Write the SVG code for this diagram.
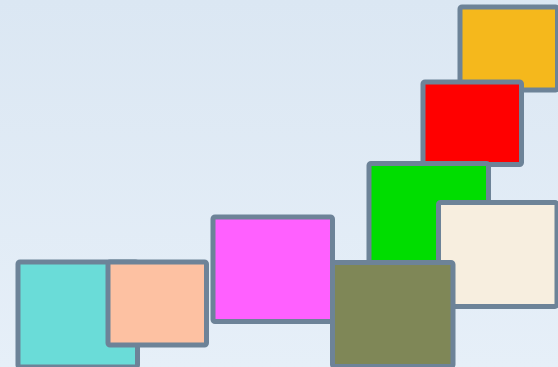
<svg xmlns="http://www.w3.org/2000/svg" width="558" height="367" viewBox="0 0 558 367">
<defs>
<linearGradient id="bg" x1="0" y1="0" x2="0" y2="1">
<stop offset="0" stop-color="#dbe7f3"/>
<stop offset="1" stop-color="#e6eff8"/>
</linearGradient>
</defs>
<style>
.box{stroke:#6d8398;stroke-width:5;stroke-linejoin:round}
</style>
<rect x="0" y="0" width="558" height="367" fill="url(#bg)"/>
<g id="cyan"><rect class="box" x="18" y="262" width="119.5" height="105" rx="2" fill="#6adcd8"/></g>
<g id="peach"><rect class="box" x="108" y="262" width="98.5" height="83" rx="2" fill="#fdc1a2"/></g>
<g id="magenta"><rect class="box" x="213" y="217" width="119.5" height="104.5" rx="2" fill="#ff60ff"/></g>
<g id="orange"><rect class="box" x="460" y="7" width="97.5" height="83" rx="2" fill="#f5b81c"/></g>
<g id="red"><rect class="box" x="423" y="82" width="98.5" height="82.5" rx="2" fill="#ff0000"/></g>
<g id="green"><rect class="box" x="369" y="163.5" width="119.5" height="104" rx="2" fill="#00dd00"/></g>
<g id="beige"><rect class="box" x="438.5" y="202.5" width="118.5" height="104" rx="2" fill="#f7eedf"/></g>
<g id="olive"><rect class="box" x="332.5" y="262.5" width="120.5" height="104" rx="2" fill="#7f8757"/></g>
</svg>
